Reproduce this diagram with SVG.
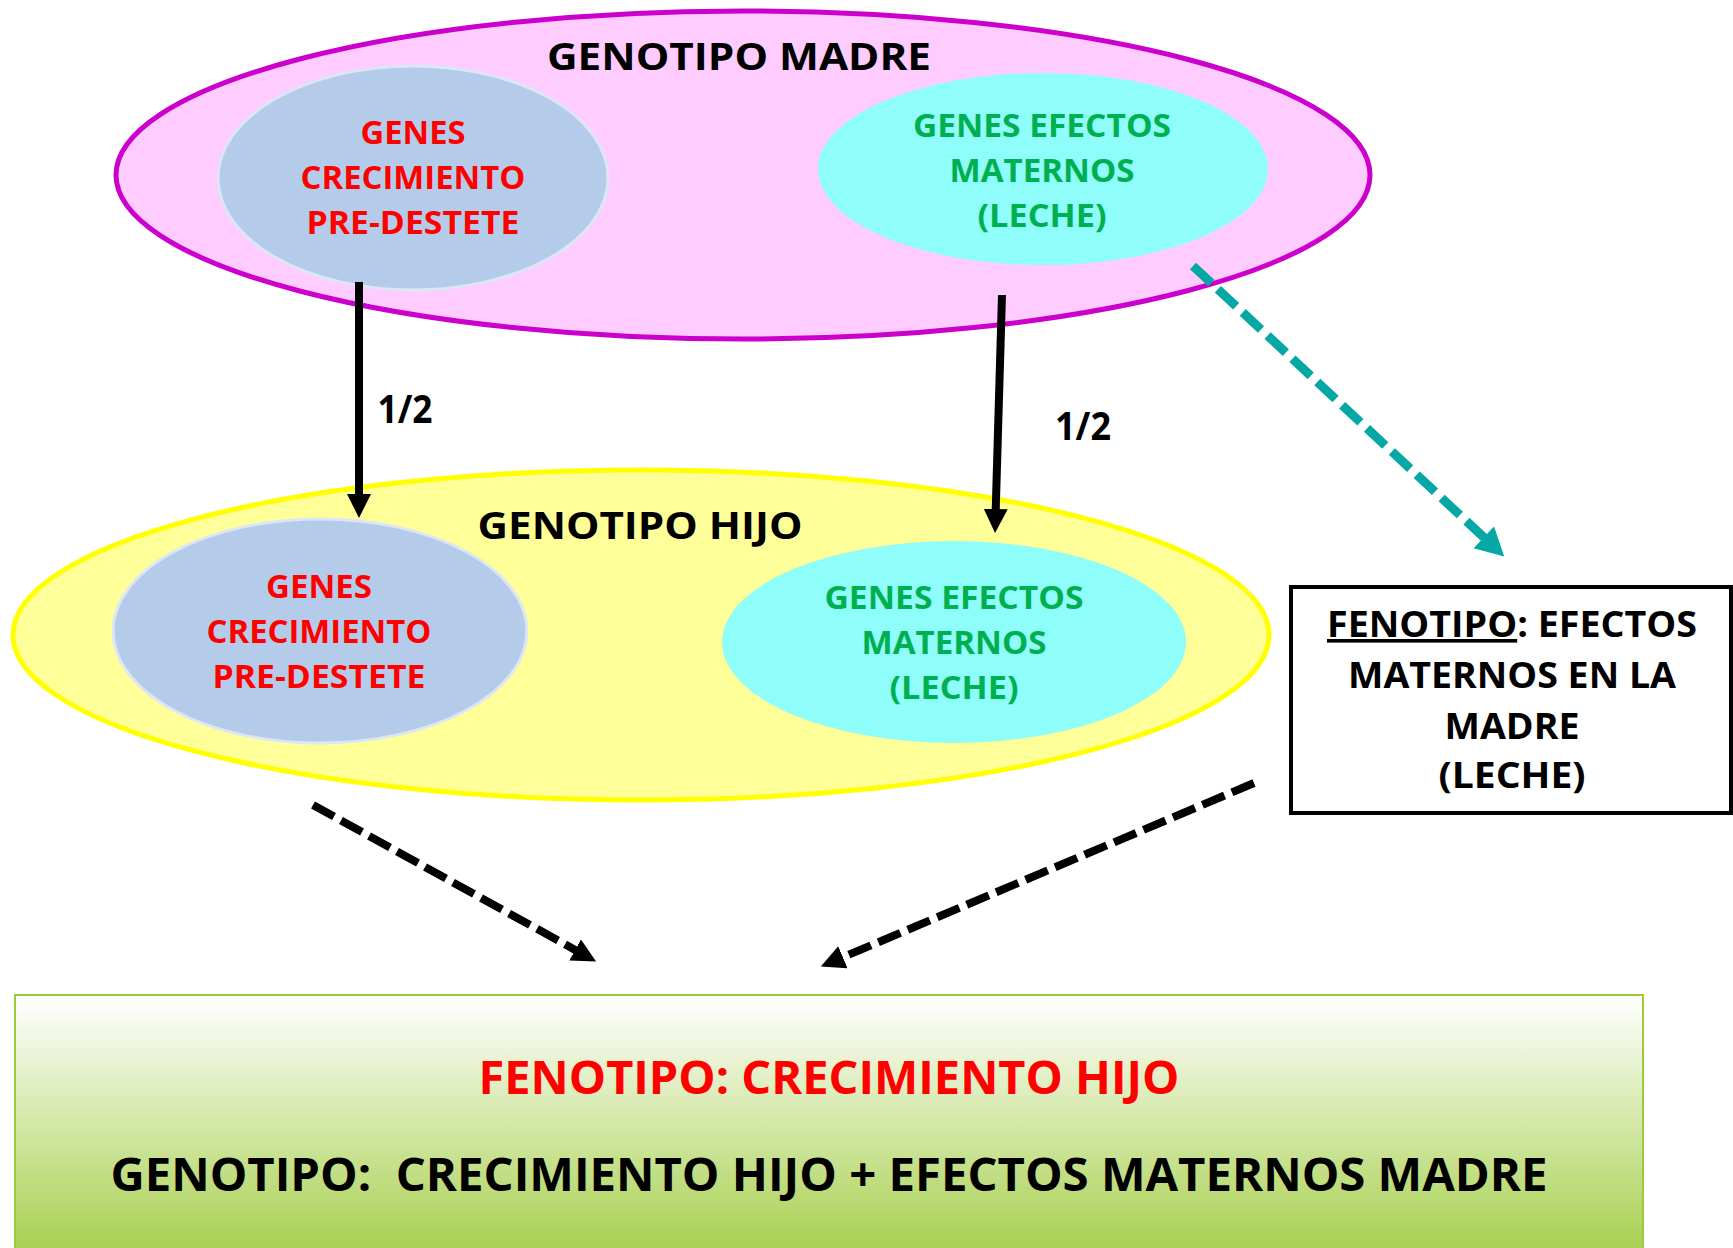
<svg xmlns="http://www.w3.org/2000/svg" width="1733" height="1248" viewBox="0 0 1733 1248">
<style>
text{font-family:"Open Sans","Liberation Sans",sans-serif;font-weight:bold;text-anchor:middle}
.blk{fill:#000}
.red{fill:#FF0000}
.grn{fill:#00B050}
.gene-b{fill:#B4CCEA;stroke:#DCE6F4;stroke-width:3}
.gene-c{fill:#8FFDF9;stroke:none}
</style>
<defs>
<marker id="ah" markerUnits="userSpaceOnUse" markerWidth="26" markerHeight="26" refX="1" refY="12" orient="auto">
<path d="M0,0 L24,12 L0,24 Z" fill="#000"/>
</marker>
<marker id="aht" markerUnits="userSpaceOnUse" markerWidth="32" markerHeight="32" refX="1" refY="15" orient="auto">
<path d="M0,0 L28,15 L0,30 Z" fill="#05A8A4"/>
</marker>
<linearGradient id="gg" x1="0" y1="0" x2="0" y2="1">
<stop offset="0" stop-color="#FFFFFF"/>
<stop offset="1" stop-color="#A8D050"/>
</linearGradient>
</defs>

<g id="madre">
<ellipse cx="743" cy="175" rx="627" ry="164" fill="#FFCCFF" stroke="#CC00CC" stroke-width="5"/>
<text class="blk" x="739" y="70" font-size="38" textLength="384" lengthAdjust="spacingAndGlyphs">GENOTIPO MADRE</text>
</g>
<g id="madre-crecimiento">
<ellipse class="gene-b" cx="413" cy="178" rx="195" ry="112"/>
<text class="red" font-size="32" x="413" y="144" textLength="105" lengthAdjust="spacingAndGlyphs">GENES</text>
<text class="red" font-size="32" x="413" y="189" textLength="225" lengthAdjust="spacingAndGlyphs">CRECIMIENTO</text>
<text class="red" font-size="32" x="413" y="234" textLength="213" lengthAdjust="spacingAndGlyphs">PRE-DESTETE</text>
</g>
<g id="madre-maternos">
<ellipse class="gene-c" cx="1043" cy="169" rx="225" ry="96"/>
<text class="grn" font-size="32" x="1042" y="137" textLength="258" lengthAdjust="spacingAndGlyphs">GENES EFECTOS</text>
<text class="grn" font-size="32" x="1042" y="182" textLength="185" lengthAdjust="spacingAndGlyphs">MATERNOS</text>
<text class="grn" font-size="32" x="1042" y="227" textLength="129" lengthAdjust="spacingAndGlyphs">(LECHE)</text>
</g>

<g id="hijo">
<ellipse cx="641" cy="635" rx="628" ry="165" fill="#FFFF99" stroke="#FFFF00" stroke-width="5"/>
<text class="blk" x="640" y="539" font-size="38" textLength="325" lengthAdjust="spacingAndGlyphs">GENOTIPO HIJO</text>
</g>
<g id="hijo-crecimiento">
<ellipse class="gene-b" cx="320" cy="631" rx="207" ry="112"/>
<text class="red" font-size="32" x="319" y="598" textLength="106" lengthAdjust="spacingAndGlyphs">GENES</text>
<text class="red" font-size="32" x="319" y="643" textLength="225" lengthAdjust="spacingAndGlyphs">CRECIMIENTO</text>
<text class="red" font-size="32" x="319" y="688" textLength="213" lengthAdjust="spacingAndGlyphs">PRE-DESTETE</text>
</g>
<g id="hijo-maternos">
<ellipse class="gene-c" cx="954" cy="642" rx="232" ry="101"/>
<text class="grn" font-size="32" x="954" y="609" textLength="259" lengthAdjust="spacingAndGlyphs">GENES EFECTOS</text>
<text class="grn" font-size="32" x="954" y="654" textLength="185" lengthAdjust="spacingAndGlyphs">MATERNOS</text>
<text class="grn" font-size="32" x="954" y="699" textLength="129" lengthAdjust="spacingAndGlyphs">(LECHE)</text>
</g>

<g id="fenotipo-madre">
<rect x="1291" y="587" width="440" height="226" fill="#FFFFFF" stroke="#000" stroke-width="4"/>
<text class="blk" font-size="36" x="1512" y="637" textLength="370" lengthAdjust="spacingAndGlyphs"><tspan text-decoration="underline">FENOTIPO</tspan>: EFECTOS</text>
<text class="blk" font-size="36" x="1512" y="688" textLength="328" lengthAdjust="spacingAndGlyphs">MATERNOS EN LA</text>
<text class="blk" font-size="36" x="1512" y="739" textLength="135" lengthAdjust="spacingAndGlyphs">MADRE</text>
<text class="blk" font-size="36" x="1512" y="788" textLength="147" lengthAdjust="spacingAndGlyphs">(LECHE)</text>
</g>

<g id="resultado">
<rect x="15" y="995" width="1628" height="256" fill="url(#gg)" stroke="#9BCB3C" stroke-width="2"/>
<text class="red" font-size="46" x="829" y="1094" textLength="701" lengthAdjust="spacingAndGlyphs">FENOTIPO: CRECIMIENTO HIJO</text>
<text class="blk" font-size="46" x="829" y="1191" textLength="1437" lengthAdjust="spacingAndGlyphs" xml:space="preserve" style="white-space:pre">GENOTIPO:  CRECIMIENTO HIJO + EFECTOS MATERNOS MADRE</text>
</g>

<g id="connectors">
<line x1="359" y1="282" x2="359" y2="495" stroke="#000" stroke-width="8" marker-end="url(#ah)"/>
<line x1="1002" y1="295" x2="995.7" y2="510" stroke="#000" stroke-width="8" marker-end="url(#ah)"/>
<line x1="1193" y1="266" x2="1484.5" y2="538" stroke="#05A8A4" stroke-width="9" stroke-dasharray="25 9" marker-end="url(#aht)"/>
<line x1="313" y1="805" x2="576" y2="950.4" stroke="#000" stroke-width="8" stroke-dasharray="24 8" marker-end="url(#ah)"/>
<line x1="1254" y1="783" x2="842" y2="957.6" stroke="#000" stroke-width="8" stroke-dasharray="24 8" marker-end="url(#ah)"/>
<text class="blk" font-size="40" x="405" y="423" textLength="55" lengthAdjust="spacingAndGlyphs">1/2</text>
<text class="blk" font-size="40" x="1083" y="440" textLength="56" lengthAdjust="spacingAndGlyphs">1/2</text>
</g>
</svg>
